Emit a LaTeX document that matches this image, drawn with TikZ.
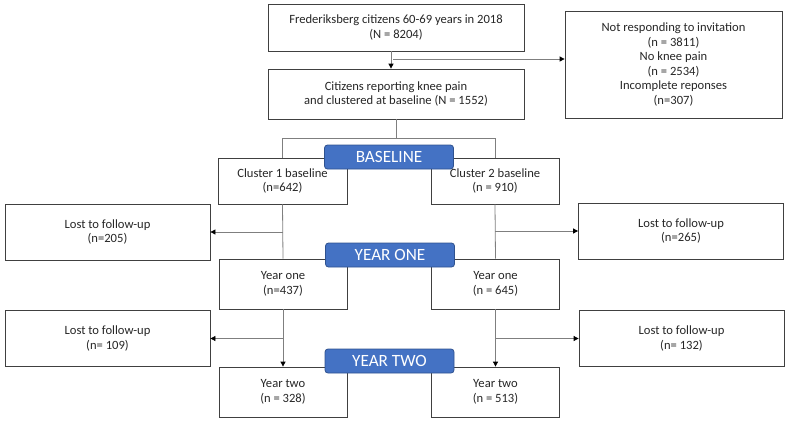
\documentclass[tikz,border=0pt]{standalone}
\usepackage{fontspec}
\setmainfont{Carlito}
\usetikzlibrary{arrows.meta}
\definecolor{boxgray}{HTML}{404040}
\definecolor{linkgray}{HTML}{7F7F7F}
\definecolor{bandblue}{HTML}{4472C4}
\definecolor{bandline}{HTML}{2F528F}
\begin{document}
\begin{tikzpicture}[x=1pt,y=-1pt,>={Triangle[length=5pt,width=5pt,color=black]},
    box/.style={draw=boxgray,line width=0.8pt,align=center,inner sep=0pt,text=black!85,font=\fontsize{12.6}{14.6}\selectfont},
    band/.style={draw=bandline,line width=0.8pt,fill=bandblue,rounded corners=3pt,text=white,minimum width=129,minimum height=24,inner sep=0pt,font=\fontsize{17.2}{18}\selectfont},
    link/.style={draw=linkgray,line width=0.8pt}]
    \useasboundingbox (0,0) rectangle (787,421);
    \node[box,minimum width=256,minimum height=47] (pop) at (396,27.5) {Frederiksberg citizens 60-69 years in 2018\\(N = 8204)};
    \node[box,minimum width=256,minimum height=50] (knee) at (396,94) {Citizens reporting knee pain\\and clustered at baseline (N = 1552)};
    \node[box,minimum width=217,minimum height=107] (excl) at (673.5,64.5) {Not responding to invitation\\(n = 3811)\\No knee pain\\(n = 2534)\\Incomplete reponses\\(n=307)};
    \node[box,minimum width=129,minimum height=46] (clA) at (282.5,181) {Cluster 1 baseline\\(n=642)};
    \node[box,minimum width=128,minimum height=46] (clB) at (495,181) {Cluster 2 baseline\\(n = 910)};
    \foreach \nm/\x/\y/\n in {lossA/107.5/232/n=205,lossB/681/231/n=265,lossC/107.5/338.5/n= 109,lossD/681.5/338.5/n= 132}
        \node[box,minimum width=205,minimum height=56] (\nm) at (\x,\y) {Lost to follow-up\\(\n)};
    \foreach \nm/\x/\y/\t in {yoneA/283/284/Year one\\(n=437),yoneB/495.5/284/Year one\\(n = 645),ytwoA/283/392/Year two\\(n = 328),ytwoB/495.5/392/Year two\\(n = 513)}
        \node[box,minimum width=128,minimum height=50] (\nm) at (\x,\y) {\t};
    % connectors
    \draw[link,->] ([xshift=-5]pop.south) -- ([xshift=-5]pop.south |- knee.north);
    \coordinate (tap) at (393,59);
    \draw[link,->] (tap) -- (tap -| excl.west);
    \draw[link] (knee.south) -- ++(0,19) coordinate (fork);
    \draw[link] (clA.north) |- (fork) -| (clB.north);
    \draw[link] (clA.south) -- (yoneA.north);
    \draw[link] (clB.south) -- (yoneB.north);
    \draw[link,->] (clA.south |- lossA.east) -- (lossA.east);
    \draw[link,->] (clB.south |- lossB.west) -- (lossB.west);
    \draw[link,->] (yoneA.south) -- (ytwoA.north);
    \draw[link,->] (yoneB.south) -- (ytwoB.north);
    \draw[link,->] (yoneA.south |- lossC.east) -- (lossC.east);
    \draw[link,->] (yoneB.south |- lossD.west) -- (lossD.west);
    % time bands
    \foreach \nm/\x/\y/\t in {base/389/157/BASELINE,one/390/255/YEAR ONE,two/389.5/361/YEAR TWO}
        \node[band] (\nm) at (\x,\y) {\t};
\end{tikzpicture}
\end{document}
